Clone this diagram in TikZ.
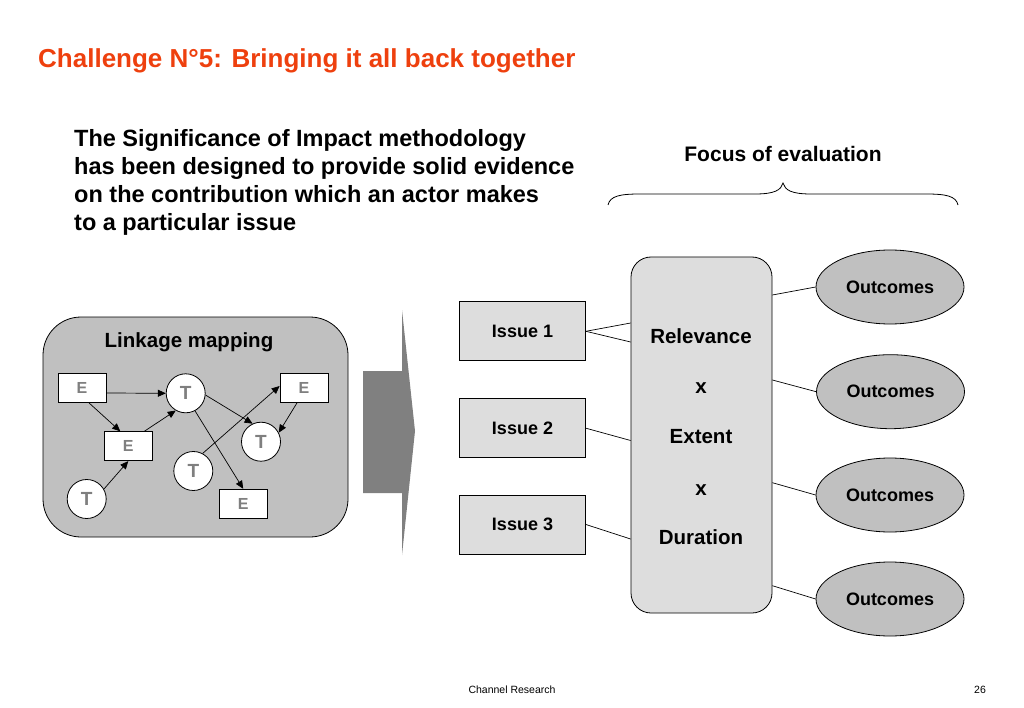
\documentclass[tikz,border=0pt]{standalone}
\usepackage{fontspec}
\setmainfont{Liberation Sans}
\usetikzlibrary{arrows.meta,shapes.geometric,calc}
\definecolor{titlered}{RGB}{238,64,14}
\definecolor{midgray}{RGB}{192,192,192}
\definecolor{palegray}{RGB}{221,221,221}
\definecolor{arrowgray}{RGB}{128,128,128}
\definecolor{lettergray}{RGB}{127,127,127}
\begin{document}
\begin{tikzpicture}[x=1pt,y=-1pt,
  ebox/.style={draw=black, fill=white, line width=0.8pt, minimum width=48pt, minimum height=29pt, inner sep=0pt, font=\fontsize{16}{16}\selectfont\bfseries, text=lettergray},
  tcirc/.style={draw=black, circle, fill=white, line width=0.8pt, minimum size=39pt, inner sep=0pt, font=\fontsize{19}{19}\selectfont\bfseries, text=lettergray},
  link/.style={-{Triangle[length=8pt,width=7pt]}, line width=0.7pt},
  issue/.style={draw=black, fill=palegray, line width=0.8pt, minimum width=126pt, minimum height=59pt, inner sep=0pt, font=\fontsize{18}{18}\selectfont\bfseries},
  outc/.style={draw=black, ellipse, fill=midgray, line width=0.8pt, minimum width=148pt, minimum height=74pt, inner sep=0pt, font=\fontsize{18}{18}\selectfont\bfseries},
  bigtxt/.style={anchor=base, inner sep=0pt, font=\fontsize{20.5}{20.5}\selectfont\bfseries},
  conn/.style={line width=0.7pt}
]
\useasboundingbox (0,0) rectangle (1024,708);

% title
\node[anchor=base west, inner sep=0pt, text=titlered, font=\fontsize{26}{26}\selectfont\bfseries] (title) at (38,67.5) {Challenge N°5: Bringing it all back together};

% paragraph
\node[anchor=north west, inner sep=0pt, align=left, font=\fontsize{23.5}{28}\selectfont\bfseries] (para) at (74,129) {The Significance of Impact methodology\\has been designed to provide solid evidence\\on the contribution which an actor makes\\to a particular issue};

% focus
\node[inner sep=0pt, font=\fontsize{21}{21}\selectfont\bfseries] (focus) at (783,154) {Focus of evaluation};
\draw[line width=0.8pt] (608,205) .. controls (610,196) and (620,194) .. (640,194) -- (755,194) .. controls (775,194) and (781,190) .. (783,183) .. controls (785,190) and (791,194) .. (811,194) -- (926,194) .. controls (946,194) and (956,196) .. (958,205);

% linkage mapping
\node[draw=black, line width=0.8pt, rounded corners=38pt, fill=midgray, minimum width=305pt, minimum height=220pt] (lm) at (195.5,427) {};
\node[anchor=base, inner sep=0pt, font=\fontsize{20.5}{20.5}\selectfont\bfseries] (lmtitle) at (189,347) {Linkage mapping};

\node[ebox] (E1) at (82,388) {E};
\node[ebox] (E2) at (304,388) {E};
\node[ebox] (E3) at (128.3,446.2) {E};
\node[ebox] (E4) at (243.2,503.7) {E};
\node[tcirc] (T1) at (185.7,393.3) {T};
\node[tcirc] (T2) at (261,441.7) {T};
\node[tcirc] (T3) at (193.3,471) {T};
\node[tcirc] (T4) at (86.7,499) {T};

\draw[link] ([yshift=-5pt]E1.east) -- (T1.west);
\draw[link] ([xshift=7pt]E1.south) -- ([xshift=-8pt]E3.north);
\draw[link] ([xshift=16pt]E3.north) -- (T1.240);
\draw[link] (T4.30) -- (E3.south);
\draw[link] (T1.-5) -- (T2.115);
\draw[link] (T1.-62) -- (E4.north);
\draw[link] (T3.62) -- ([yshift=2pt]E2.west);
\draw[link] ([xshift=-7pt]E2.south) -- (T2.27);

% big arrow
\fill[arrowgray] (363,371) -- (402,371) -- (402,310) -- (415,431) -- (402,555) -- (402,493) -- (363,493) -- cycle;

% issues
\node[issue] (i1) at (522.5,331.3) {Issue 1};
\node[issue] (i2) at (522.5,428.2) {Issue 2};
\node[issue] (i3) at (522.5,524.5) {Issue 3};

% relevance box
\node[draw=black, line width=0.8pt, rounded corners=20pt, fill=palegray, minimum width=141pt, minimum height=356pt] (rxd) at (701.5,435) {};
\node[bigtxt] (rel) at (701,343) {Relevance};
\node[bigtxt] (x1) at (701,393.3) {x};
\node[bigtxt] (ext) at (701,443.3) {Extent};
\node[bigtxt] (x2) at (701,495) {x};
\node[bigtxt] (dur) at (701,544) {Duration};

\draw[conn] (i1.east) -- (rxd.west |- 0,323);
\draw[conn] (i1.east) -- (rxd.west |- 0,342);
\draw[conn] (i2.east) -- (rxd.west |- 0,440.5);
\draw[conn] (i3.east) -- (rxd.west |- 0,539);

% outcomes
\node[outc] (o1) at (890,287) {Outcomes};
\node[outc] (o2) at (890.5,391.7) {Outcomes};
\node[outc] (o3) at (890,495) {Outcomes};
\node[outc] (o4) at (890,599) {Outcomes};

\draw[conn] (rxd.east |- 0,295) -- (o1.west);
\draw[conn] (rxd.east |- 0,380) -- (o2.west);
\draw[conn] (rxd.east |- 0,482.7) -- (o3.west);
\draw[conn] (rxd.east |- 0,585.7) -- (o4.west);

% footer
\node[inner sep=0pt, font=\fontsize{10.5}{10.5}\selectfont] (foot) at (512,690) {Channel Research};
\node[inner sep=0pt, font=\fontsize{10.5}{10.5}\selectfont] (page) at (980,690) {26};
\end{tikzpicture}
\end{document}
